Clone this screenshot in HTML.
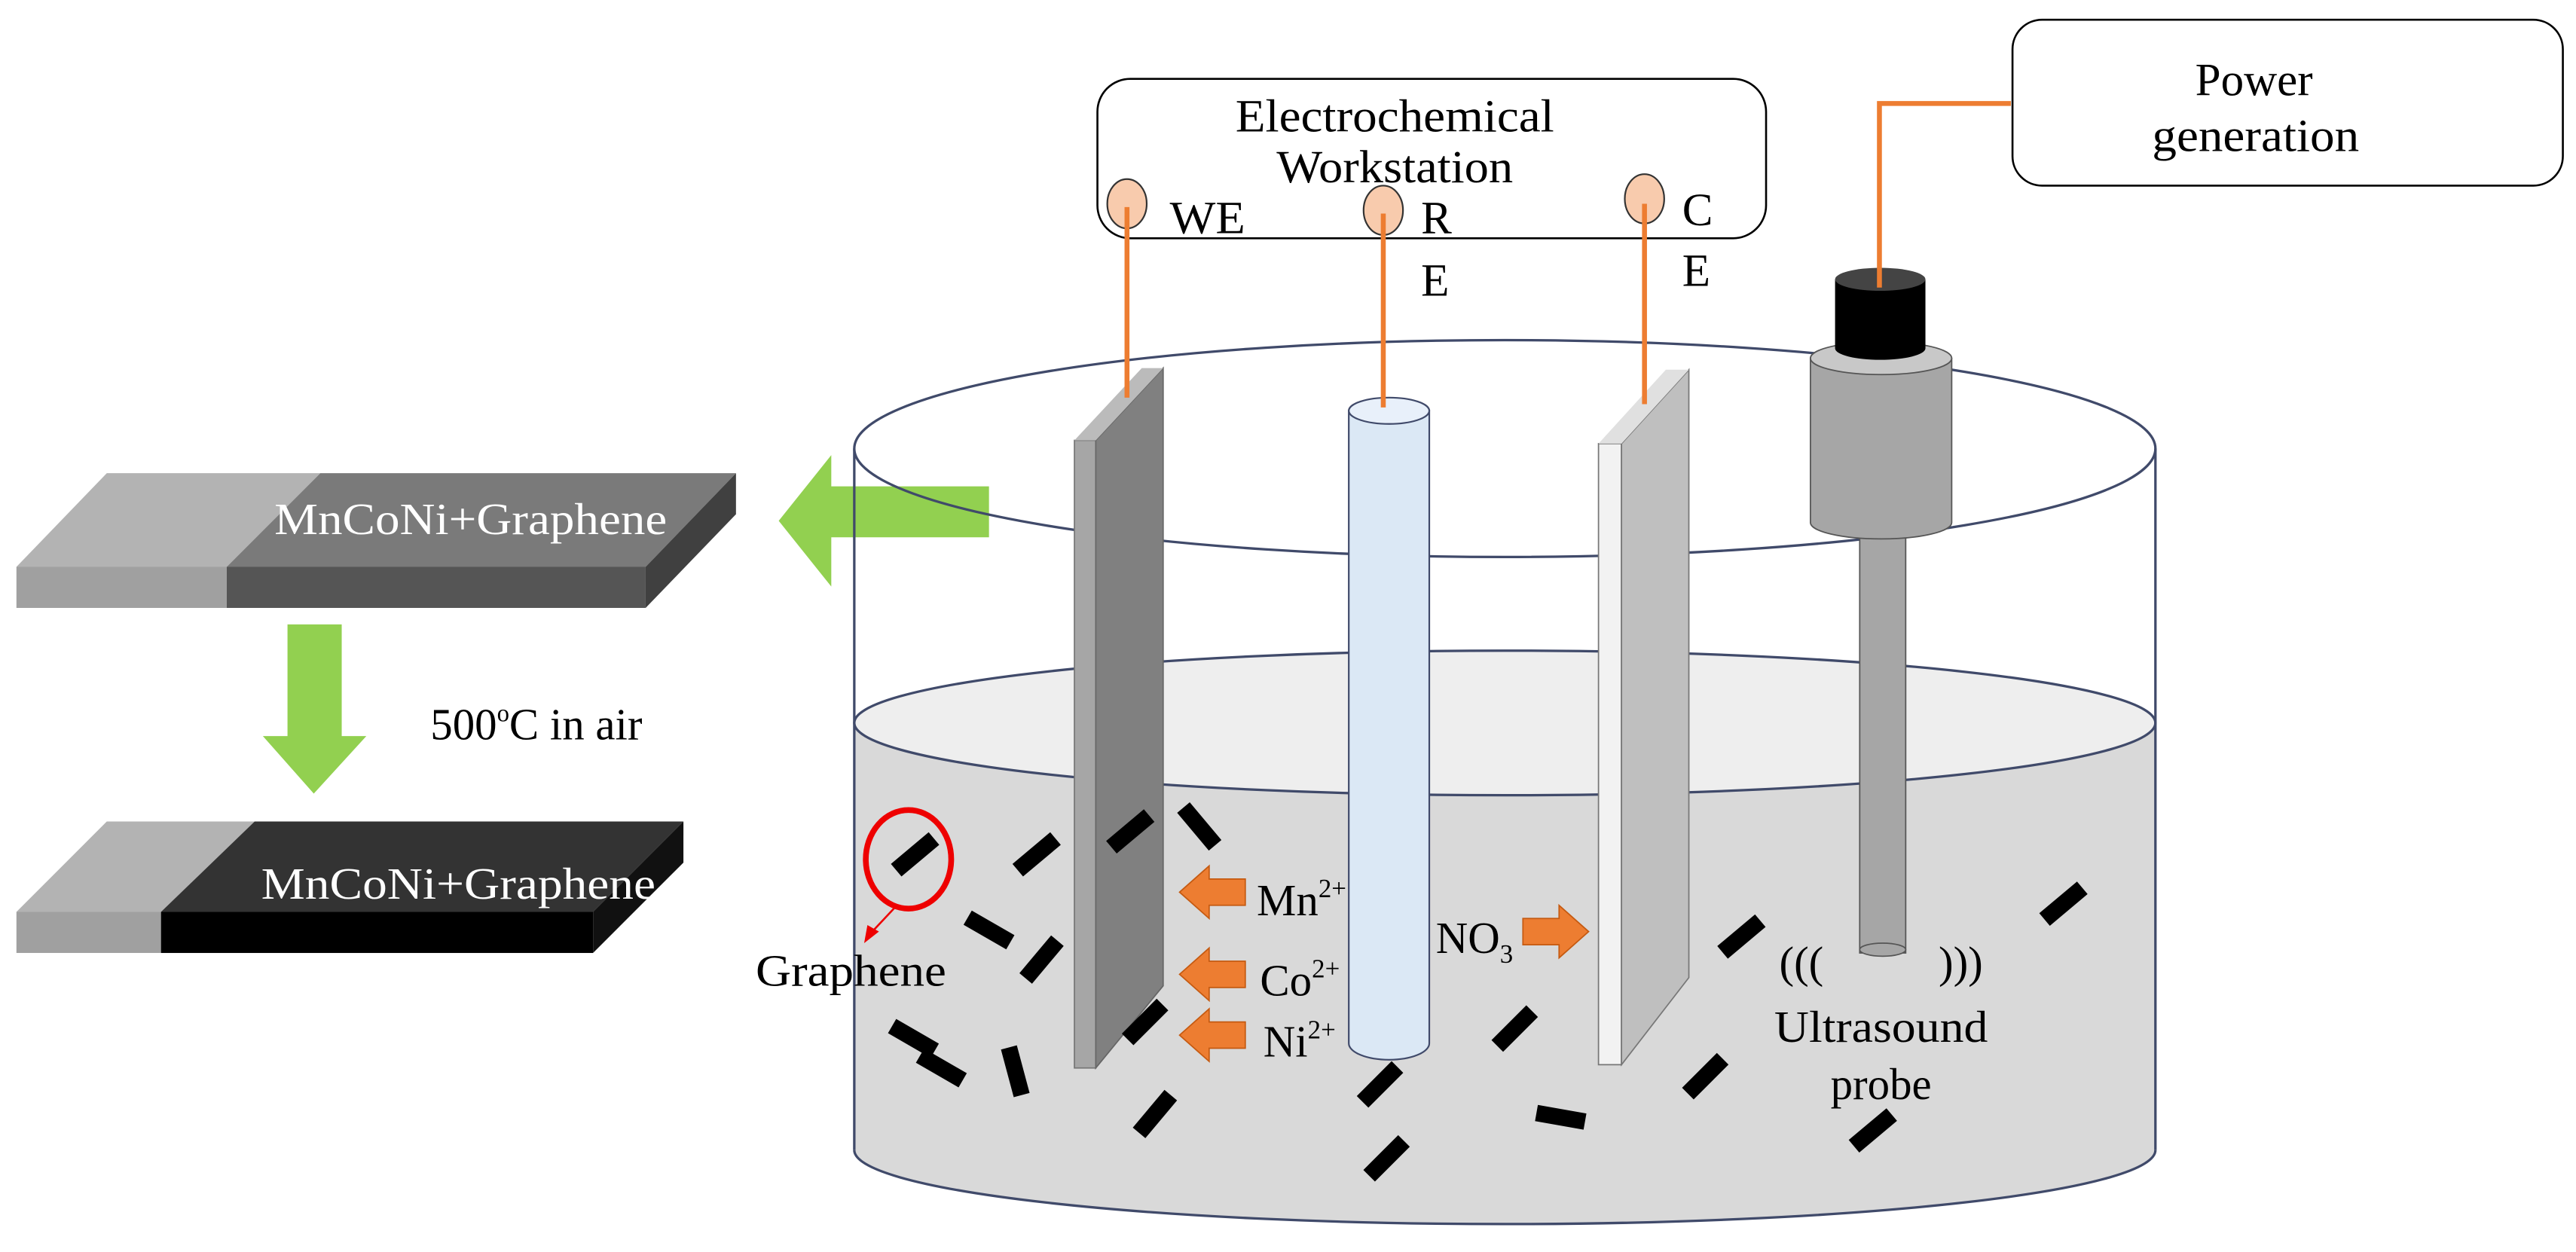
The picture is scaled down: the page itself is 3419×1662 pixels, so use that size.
<!DOCTYPE html>
<html><head><meta charset="utf-8"><style>html,body{margin:0;padding:0;background:#fff}svg{display:block}text{font-family:"Liberation Serif",serif;fill:#000}</style></head>
<body>
<svg width="3419" height="1662" viewBox="0 0 1568 762" preserveAspectRatio="none" xmlns="http://www.w3.org/2000/svg">
<!-- Slab 1 -->
<polygon points="10,345 65,288 195,288 138,345" fill="#b3b3b3"/>
<polygon points="138,345 195,288 448,288 393,345" fill="#7a7a7a"/>
<rect x="10" y="345" width="128" height="25" fill="#a0a0a0"/>
<rect x="138" y="345" width="255" height="25" fill="#555"/>
<polygon points="393,345 448,288 448,313 393,370" fill="#404040"/>
<text x="167" y="325" font-size="27" style="fill:#fff" textLength="239" lengthAdjust="spacingAndGlyphs">MnCoNi+Graphene</text>
<!-- green left arrow -->
<polygon points="474,317 506,277 506,296 602,296 602,327 506,327 506,357" fill="#92d050"/>
<!-- green down arrow -->
<polygon points="175,380 208,380 208,448 223,448 191,483 160,448 175,448" fill="#92d050"/>
<text x="262" y="450" font-size="27">500<tspan font-size="15" dy="-11">o</tspan><tspan dy="11">C in air</tspan></text>
<!-- Slab 2 -->
<polygon points="10,555 65,500 155,500 98,555" fill="#b3b3b3"/>
<polygon points="98,555 155,500 416,500 361,555" fill="#333"/>
<rect x="10" y="555" width="88" height="25" fill="#a0a0a0"/>
<rect x="98" y="555" width="263" height="25" fill="#000"/>
<polygon points="361,555 416,500 416,525 361,580" fill="#111"/>
<text x="159" y="547" font-size="27" style="fill:#fff" textLength="240" lengthAdjust="spacingAndGlyphs">MnCoNi+Graphene</text>
<!-- beaker -->
<path d="M520,440 L520,700 A396,45 0 0 0 1312,700 L1312,440 Z" fill="#d9d9d9"/>
<ellipse cx="916" cy="440" rx="396" ry="44" fill="#eeeeee" stroke="#404a6a" stroke-width="1.5"/>
<path d="M520,700 A396,45 0 0 0 1312,700" fill="none" stroke="#404a6a" stroke-width="1.5"/>
<line x1="520" y1="273" x2="520" y2="700" stroke="#404a6a" stroke-width="1.5"/>
<line x1="1312" y1="273" x2="1312" y2="700" stroke="#404a6a" stroke-width="1.5"/>
<ellipse cx="916" cy="273" rx="396" ry="66" fill="none" stroke="#404a6a" stroke-width="1.5"/>
<!-- WE plate -->
<rect x="654" y="268" width="13" height="382" fill="#a6a6a6" stroke="#777" stroke-width="0.8"/>
<polygon points="667,268 708,224 708,600 667,650" fill="#808080" stroke="#666" stroke-width="0.8"/>
<polygon points="654,268 695,224 708,224 667,268" fill="#bbb"/>
<!-- RE tube -->
<path d="M821,250 L821,635 A24.5,10 0 0 0 870,635 L870,250 Z" fill="#dbe8f5" stroke="#404a6a" stroke-width="1"/>
<ellipse cx="845.5" cy="250" rx="24.5" ry="8" fill="#e8f0fa" stroke="#404a6a" stroke-width="1"/>
<!-- CE plate -->
<rect x="973" y="270" width="14" height="378" fill="#f2f2f2" stroke="#777" stroke-width="0.8"/>
<polygon points="987,270 1028,225 1028,595 987,648" fill="#bfbfbf" stroke="#777" stroke-width="0.8"/>
<polygon points="973,270 1014,225 1028,225 987,270" fill="#e0e0e0"/>
<!-- probe -->
<rect x="1132" y="320" width="28" height="260" fill="#a6a6a6" stroke="#555" stroke-width="0.8"/>
<ellipse cx="1146" cy="578" rx="14" ry="4" fill="#a6a6a6" stroke="#555" stroke-width="0.8"/>
<path d="M1102,218 L1102,318 A43,10 0 0 0 1188,318 L1188,218 Z" fill="#a6a6a6" stroke="#555" stroke-width="0.8"/>
<ellipse cx="1145" cy="218" rx="43" ry="10" fill="#c8c8c8" stroke="#555" stroke-width="0.8"/>
<path d="M1117,170 L1117,212 A27.5,7 0 0 0 1172,212 L1172,170 Z" fill="#000"/>
<ellipse cx="1144.5" cy="170" rx="27.5" ry="7" fill="#444"/>
<!-- workstation box -->
<rect x="668" y="48" width="407" height="97" rx="20" fill="#fff" stroke="#000" stroke-width="1.2"/>
<text x="752" y="80" font-size="28" textLength="194" lengthAdjust="spacingAndGlyphs">Electrochemical</text>
<text x="777" y="111" font-size="28" textLength="144" lengthAdjust="spacingAndGlyphs">Workstation</text>
<ellipse cx="686" cy="124" rx="12" ry="15" fill="#f8cbad" stroke="#333" stroke-width="1"/>
<ellipse cx="842" cy="128" rx="12" ry="15" fill="#f8cbad" stroke="#333" stroke-width="1"/>
<ellipse cx="1001" cy="121" rx="12" ry="15" fill="#f8cbad" stroke="#333" stroke-width="1"/>
<text x="712" y="142" font-size="28" textLength="46" lengthAdjust="spacingAndGlyphs">WE</text>
<text x="865" y="142" font-size="28">R</text>
<text x="865" y="180" font-size="28">E</text>
<text x="1024" y="137" font-size="28">C</text>
<text x="1024" y="174" font-size="28">E</text>
<!-- wires -->
<g stroke="#ed7d31" stroke-width="3" fill="none">
<line x1="686" y1="126" x2="686" y2="242"/>
<line x1="842" y1="130" x2="842" y2="248"/>
<line x1="1001" y1="124" x2="1001" y2="246"/>
<polyline points="1144,175 1144,63 1224,63"/>
</g>
<!-- power box -->
<rect x="1225" y="12" width="335" height="101" rx="18" fill="#fff" stroke="#000" stroke-width="1.2"/>
<text x="1372" y="58" font-size="28" text-anchor="middle">Power</text>
<text x="1310" y="92" font-size="28" textLength="126" lengthAdjust="spacingAndGlyphs">generation</text>
<!-- ion arrows -->
<g fill="#ed7d31" stroke="#c55a11" stroke-width="0.8">
<polygon points="718,543 736,527 736,535 758,535 758,551 736,551 736,559"/>
<polygon points="718,593 736,577 736,585 758,585 758,601 736,601 736,609"/>
<polygon points="718,630 736,614 736,622 758,622 758,638 736,638 736,646"/>
<polygon points="967,567 949,551 949,559 927,559 927,575 949,575 949,583"/>
</g>
<text x="765" y="557" font-size="27">Mn<tspan font-size="16" dy="-11">2+</tspan></text>
<text x="767" y="606" font-size="27">Co<tspan font-size="16" dy="-11">2+</tspan></text>
<text x="769" y="643" font-size="27">Ni<tspan font-size="16" dy="-11">2+</tspan></text>
<text x="874" y="580" font-size="27">NO<tspan font-size="16" dy="6">3</tspan></text>
<!-- graphene circle -->
<ellipse cx="553" cy="523" rx="26" ry="30" fill="none" stroke="#e00" stroke-width="3.5"/>
<line x1="545" y1="552" x2="530" y2="568" stroke="#e00" stroke-width="1.2"/>
<polygon points="526,574 528,563 535,567" fill="#e00"/>
<text x="460" y="600" font-size="27" textLength="116" lengthAdjust="spacingAndGlyphs">Graphene</text>
<text x="1083" y="595" font-size="27">(((</text>
<text x="1180" y="595" font-size="27">)))</text>
<text x="1080" y="634" font-size="27" textLength="130" lengthAdjust="spacingAndGlyphs">Ultrasound</text>
<text x="1145" y="669" font-size="27" text-anchor="middle">probe</text>
<!-- graphene flakes -->
<g fill="#000">
<rect x="-15" y="-5" width="30" height="10" transform="translate(557,520) rotate(-40)"/>
<rect x="-15" y="-5" width="30" height="10" transform="translate(631,520) rotate(-40)"/>
<rect x="-15" y="-5" width="30" height="10" transform="translate(688,506) rotate(-40)"/>
<rect x="-15" y="-5" width="30" height="10" transform="translate(730,503) rotate(50)"/>
<rect x="-15" y="-5" width="30" height="10" transform="translate(602,566) rotate(30)"/>
<rect x="-15" y="-5" width="30" height="10" transform="translate(634,584) rotate(-50)"/>
<rect x="-15" y="-5" width="30" height="10" transform="translate(697,622) rotate(-45)"/>
<rect x="-15" y="-5" width="30" height="10" transform="translate(556,632) rotate(30)"/>
<rect x="-15" y="-5" width="30" height="10" transform="translate(573,650) rotate(30)"/>
<rect x="-15" y="-5" width="30" height="10" transform="translate(618,652) rotate(75)"/>
<rect x="-15" y="-5" width="30" height="10" transform="translate(703,678) rotate(-50)"/>
<rect x="-15" y="-5" width="30" height="10" transform="translate(840,660) rotate(-45)"/>
<rect x="-15" y="-5" width="30" height="10" transform="translate(922,626) rotate(-45)"/>
<rect x="-15" y="-5" width="30" height="10" transform="translate(844,705) rotate(-45)"/>
<rect x="-15" y="-5" width="30" height="10" transform="translate(950,680) rotate(10)"/>
<rect x="-15" y="-5" width="30" height="10" transform="translate(1038,655) rotate(-45)"/>
<rect x="-15" y="-5" width="30" height="10" transform="translate(1060,570) rotate(-40)"/>
<rect x="-15" y="-5" width="30" height="10" transform="translate(1256,550) rotate(-40)"/>
<rect x="-15" y="-5" width="30" height="10" transform="translate(1140,688) rotate(-40)"/>
</g>
</svg>
</body></html>
